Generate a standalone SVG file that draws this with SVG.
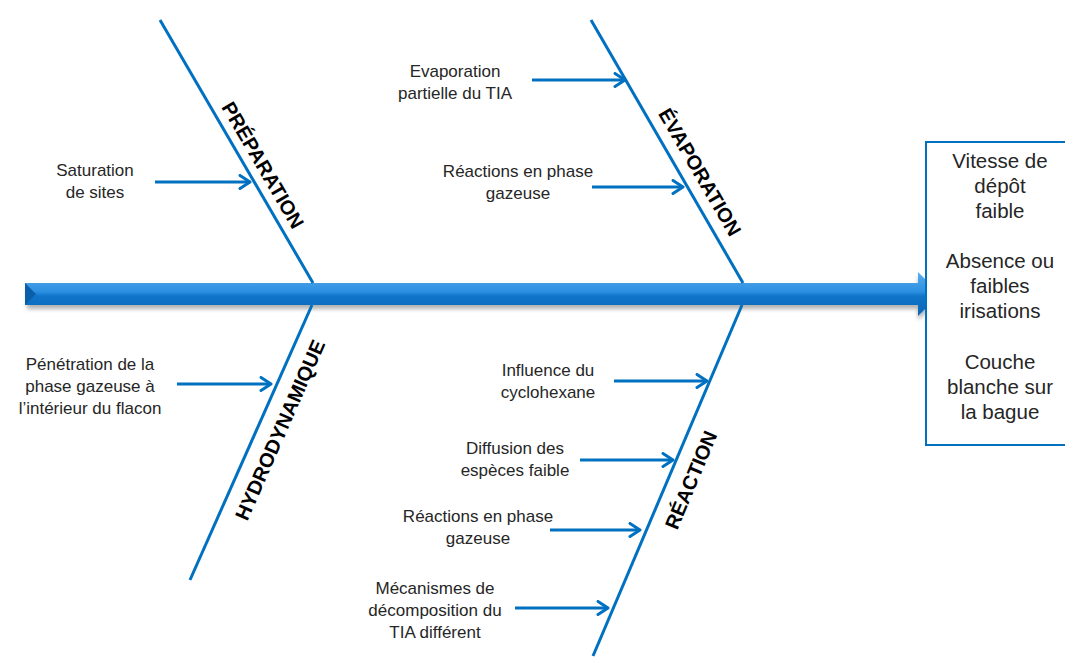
<svg xmlns="http://www.w3.org/2000/svg" width="1065" height="657" viewBox="0 0 1065 657">
<style>
.bone{stroke:#0070C0;stroke-width:3;fill:none}
.arr{stroke:#0070C0;stroke-width:3;fill:none;marker-end:url(#chev)}
.lbl{font-family:"Liberation Sans",Arial,sans-serif;font-size:17px;fill:#262626;text-anchor:middle}
.box{font-family:"Liberation Sans",Arial,sans-serif;font-size:20.5px;fill:#262626;text-anchor:middle}
.cat{font-family:"Liberation Sans",Arial,sans-serif;font-size:20px;font-weight:bold;fill:#000;text-anchor:middle}
</style>
<defs>
<marker id="chev" viewBox="0 0 14 16" refX="12" refY="8" markerWidth="14" markerHeight="16" markerUnits="userSpaceOnUse" orient="auto">
<path d="M2,1.5 L12,8 L2,14.5" stroke="#0070C0" stroke-width="3" fill="none" stroke-linecap="round" stroke-linejoin="round"/>
</marker>
<linearGradient id="shaft" x1="0" y1="0" x2="0" y2="1">
<stop offset="0" stop-color="#5aaef0"/>
<stop offset="0.45" stop-color="#2b8fe0"/>
<stop offset="0.55" stop-color="#0f74c8"/>
<stop offset="1" stop-color="#0a66b8"/>
</linearGradient>
<filter id="sh" x="-5%" y="-50%" width="110%" height="200%">
<feGaussianBlur stdDeviation="2"/>
</filter>
</defs>
<g id="spine">
<polygon points="27,287 918,287 918,276 942,298 918,320 918,309 27,309" fill="#000" opacity="0.3" filter="url(#sh)"/>
<polygon points="25,283 918,283 918,272 940,294 918,316 918,305 25,305" fill="url(#shaft)"/>
<polygon points="25,283 36,294 25,305" fill="#0a5fa8"/>
</g>
<g id="connectors">
<line class="bone" x1="160" y1="20" x2="313" y2="283"/>
<line class="bone" x1="591" y1="20" x2="743" y2="283"/>
<line class="bone" x1="312" y1="305" x2="190" y2="580"/>
<line class="bone" x1="742" y1="305" x2="593" y2="656"/>
<line class="arr" x1="155" y1="182" x2="250" y2="182"/>
<line class="arr" x1="532" y1="80" x2="625" y2="80"/>
<line class="arr" x1="592" y1="187" x2="683" y2="187"/>
<line class="arr" x1="177" y1="384" x2="271" y2="384"/>
<line class="arr" x1="614" y1="381" x2="707" y2="381"/>
<line class="arr" x1="580" y1="460" x2="673" y2="460"/>
<line class="arr" x1="550" y1="530" x2="640" y2="530"/>
<line class="arr" x1="515" y1="608" x2="608" y2="608"/>
</g>
<g id="cat-preparation"><text class="cat" transform="translate(263,165) rotate(59.8)" dy="7">PRÉPARATION</text></g>
<g id="cat-evaporation"><text class="cat" transform="translate(700,172) rotate(59.8)" dy="7">ÉVAPORATION</text></g>
<g id="cat-hydrodynamique"><text class="cat" transform="translate(280,430) rotate(-66.3)" dy="7">HYDRODYNAMIQUE</text></g>
<g id="cat-reaction"><text class="cat" transform="translate(691,480) rotate(-67.2)" dy="7">RÉACTION</text></g>
<g id="cause-saturation"><text class="lbl" x="95" y="176">Saturation</text><text class="lbl" x="95" y="198">de sites</text></g>
<g id="cause-evap-partielle"><text class="lbl" x="455" y="77">Evaporation</text><text class="lbl" x="455" y="99">partielle du TIA</text></g>
<g id="cause-reactions-top"><text class="lbl" x="518" y="177">Réactions en phase</text><text class="lbl" x="518" y="199">gazeuse</text></g>
<g id="cause-penetration"><text class="lbl" x="90" y="370">Pénétration de la</text><text class="lbl" x="90" y="392">phase gazeuse à</text><text class="lbl" x="90" y="414">l’intérieur du flacon</text></g>
<g id="cause-cyclohexane"><text class="lbl" x="548" y="376">Influence du</text><text class="lbl" x="548" y="398">cyclohexane</text></g>
<g id="cause-diffusion"><text class="lbl" x="515" y="454">Diffusion des</text><text class="lbl" x="515" y="476">espèces faible</text></g>
<g id="cause-reactions-bottom"><text class="lbl" x="478" y="522">Réactions en phase</text><text class="lbl" x="478" y="544">gazeuse</text></g>
<g id="cause-mecanismes"><text class="lbl" x="435" y="594">Mécanismes de</text><text class="lbl" x="435" y="616">décomposition du</text><text class="lbl" x="435" y="638">TIA différent</text></g>
<g id="effect">
<rect x="926" y="142" width="145" height="303" fill="#fff" stroke="#0070C0" stroke-width="2"/>
<text class="box" x="1000" y="168">Vitesse de</text>
<text class="box" x="1000" y="193">dépôt</text>
<text class="box" x="1000" y="218">faible</text>
<text class="box" x="1000" y="268">Absence ou</text>
<text class="box" x="1000" y="293">faibles</text>
<text class="box" x="1000" y="318">irisations</text>
<text class="box" x="1000" y="369">Couche</text>
<text class="box" x="1000" y="394">blanche sur</text>
<text class="box" x="1000" y="419">la bague</text>
</g>
</svg>
